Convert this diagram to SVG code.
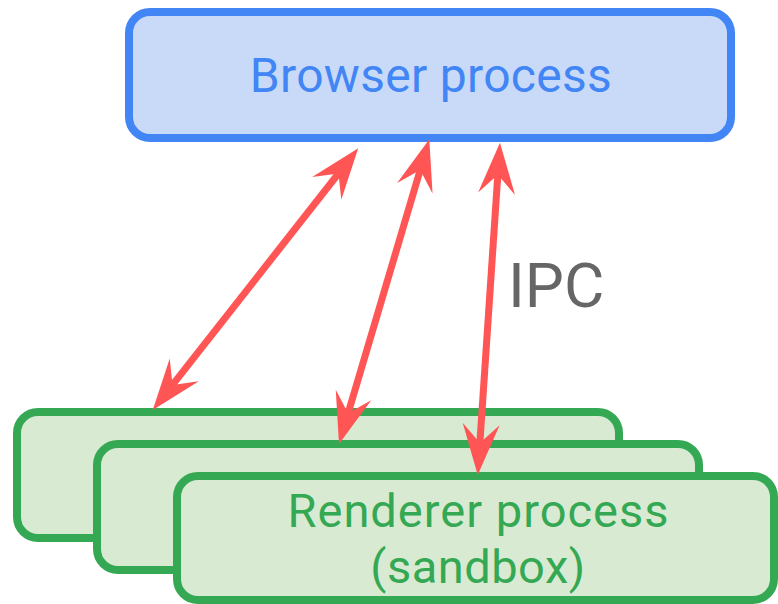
<svg xmlns="http://www.w3.org/2000/svg" width="778" height="604" viewBox="0 0 778 604">
  <style>
    .browser rect { fill: #c9daf8; stroke: #4285f4; stroke-width: 8; }
    .renderer rect { fill: #d9ead3; stroke: #34a853; stroke-width: 8; }
    text { font-family: Roboto, "Liberation Sans", sans-serif; text-anchor: middle; }
    .browser text { fill: #4285f4; font-size: 48px; letter-spacing: 0.3px; }
    .renderer text { fill: #34a853; font-size: 47px; letter-spacing: 1px; }
    .renderer text.sub { letter-spacing: 0.5px; }
    .label { fill: #666666; font-size: 62px; text-anchor: start; }
    .ipc line { stroke: #ff5555; stroke-width: 7; marker-start: url(#head); marker-end: url(#head); }
  </style>
  <defs>
    <!-- barbed arrowhead, tip 25px past the line end -->
    <marker id="head" markerUnits="userSpaceOnUse" markerWidth="60" markerHeight="40" viewBox="-30 -20 60 40" refX="0" refY="0" orient="auto-start-reverse" overflow="visible">
      <path d="M25,0 L-26,-18.5 L-7,0 L-26,18.5 Z" fill="#ff5555"/>
    </marker>
  </defs>
  <rect width="778" height="604" fill="#ffffff"/>

  <g id="browser-process" class="browser">
    <rect x="129" y="12" width="602" height="126" rx="21"/>
    <text x="431" y="92">Browser process</text>
  </g>

  <g id="renderer-back" class="renderer">
    <rect x="17" y="412" width="602" height="126" rx="21"/>
  </g>
  <g id="renderer-middle" class="renderer">
    <rect x="97" y="444" width="602" height="126" rx="21"/>
  </g>
  <g id="renderer-front" class="renderer">
    <rect x="177" y="476" width="597" height="124" rx="21"/>
    <text x="478.5" y="527">Renderer process</text>
    <text class="sub" x="478" y="583">(sandbox)</text>
  </g>

  <g id="ipc-connectors" class="ipc">
    <line x1="342.8" y1="168.0" x2="168.2" y2="390.4"/>
    <line x1="422.2" y1="163.3" x2="346.1" y2="420.0"/>
    <line x1="498.3" y1="167.7" x2="479.4" y2="450.0"/>
  </g>

  <text id="ipc-label" class="label" x="508" y="307">IPC</text>
</svg>
